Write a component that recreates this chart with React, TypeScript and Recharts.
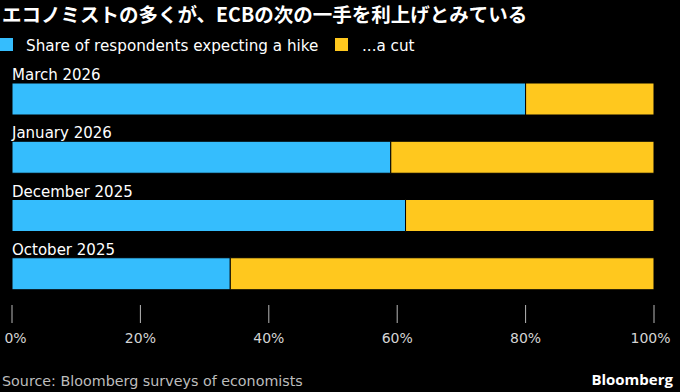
import { BarChart, Bar, XAxis, YAxis, LabelList } from "recharts";

const periods = ["March 2026", "January 2026", "December 2025", "October 2025"];
const hike = [80, 59, 61.3, 34];
const cut = [20, 41, 38.7, 66];
const ticks = [0, 20, 40, 60, 80, 100];

const BLUE = "#35bdfd";
const YELLOW = "#ffc81e";
const FONT = "'DejaVu Sans', sans-serif";

const data = periods.map((name, i) => ({ name, hike: hike[i], cut: cut[i] }));

const PeriodLabel = (props: any) => {
  const { x, y, value } = props;
  return (
    <text x={x} y={y - 3} fill="#ffffff" fontSize={15} fontFamily={FONT} textAnchor="start">
      {value}
    </text>
  );
};

const PercentTick = (props: any) => {
  const { x, y, payload, index } = props;
  // end labels sit a little inward, as in the original
  const shift = index === 0 ? 3.5 : index === ticks.length - 1 ? -3.5 : 0;
  return (
    <g>
      <line x1={x} x2={x} y1={y + 2} y2={y + 20} stroke="#b8b8b8" strokeWidth={1} />
      <text x={x + shift} y={y + 40} fill="#d4d4d4" fontSize={14} fontFamily={FONT} textAnchor="middle">
        {payload.value}%
      </text>
    </g>
  );
};

export default function App() {
  return (
    <div style={{ position: "absolute", left: 0, top: 0, width: 680, height: 392, background: "#000" }}>
      <BarChart
        width={680}
        height={392}
        data={data}
        layout="vertical"
        margin={{ top: 70, right: 26, left: 12, bottom: 0 }}
        barSize={32}
      >
        <XAxis
          type="number"
          domain={[0, 100]}
          ticks={ticks}
          height={89}
          axisLine={false}
          tickLine={false}
          tickSize={0}
          tickMargin={0}
          tick={<PercentTick />}
          interval={0}
        />
        <YAxis type="category" dataKey="name" hide />
        <Bar dataKey="hike" stackId="a" fill={BLUE} stroke="#000" strokeWidth={1} isAnimationActive={false}>
          <LabelList dataKey="name" content={<PeriodLabel />} />
        </Bar>
        <Bar dataKey="cut" stackId="a" fill={YELLOW} stroke="#000" strokeWidth={1} isAnimationActive={false} />
      </BarChart>
      <svg
        width={680}
        height={392}
        style={{ position: "absolute", left: 0, top: 0, pointerEvents: "none" }}
      >
        <text x={2} y={22} fill="#fff" fontSize={19.5} fontWeight="bold" fontFamily="'Noto Sans CJK JP', sans-serif">
          エコノミストの多くが、ECBの次の一手を利上げとみている
        </text>
        <rect x={0} y={38} width={13} height={13} fill={BLUE} />
        <text x={26} y={51} fill="#fff" fontSize={15.2} fontFamily={FONT}>
          Share of respondents expecting a hike
        </text>
        <rect x={335} y={38} width={13} height={13} fill={YELLOW} />
        <text x={362} y={51} fill="#fff" fontSize={15.2} fontFamily={FONT}>
          ...a cut
        </text>
        <text x={2} y={386} fill="#bdbdbd" fontSize={14.3} fontFamily={FONT}>
          Source: Bloomberg surveys of economists
        </text>
        <text x={673} y={385} fill="#fff" fontSize={15} fontWeight="bold" fontFamily="'Open Sans', sans-serif" textAnchor="end">
          Bloomberg
        </text>
      </svg>
    </div>
  );
}
